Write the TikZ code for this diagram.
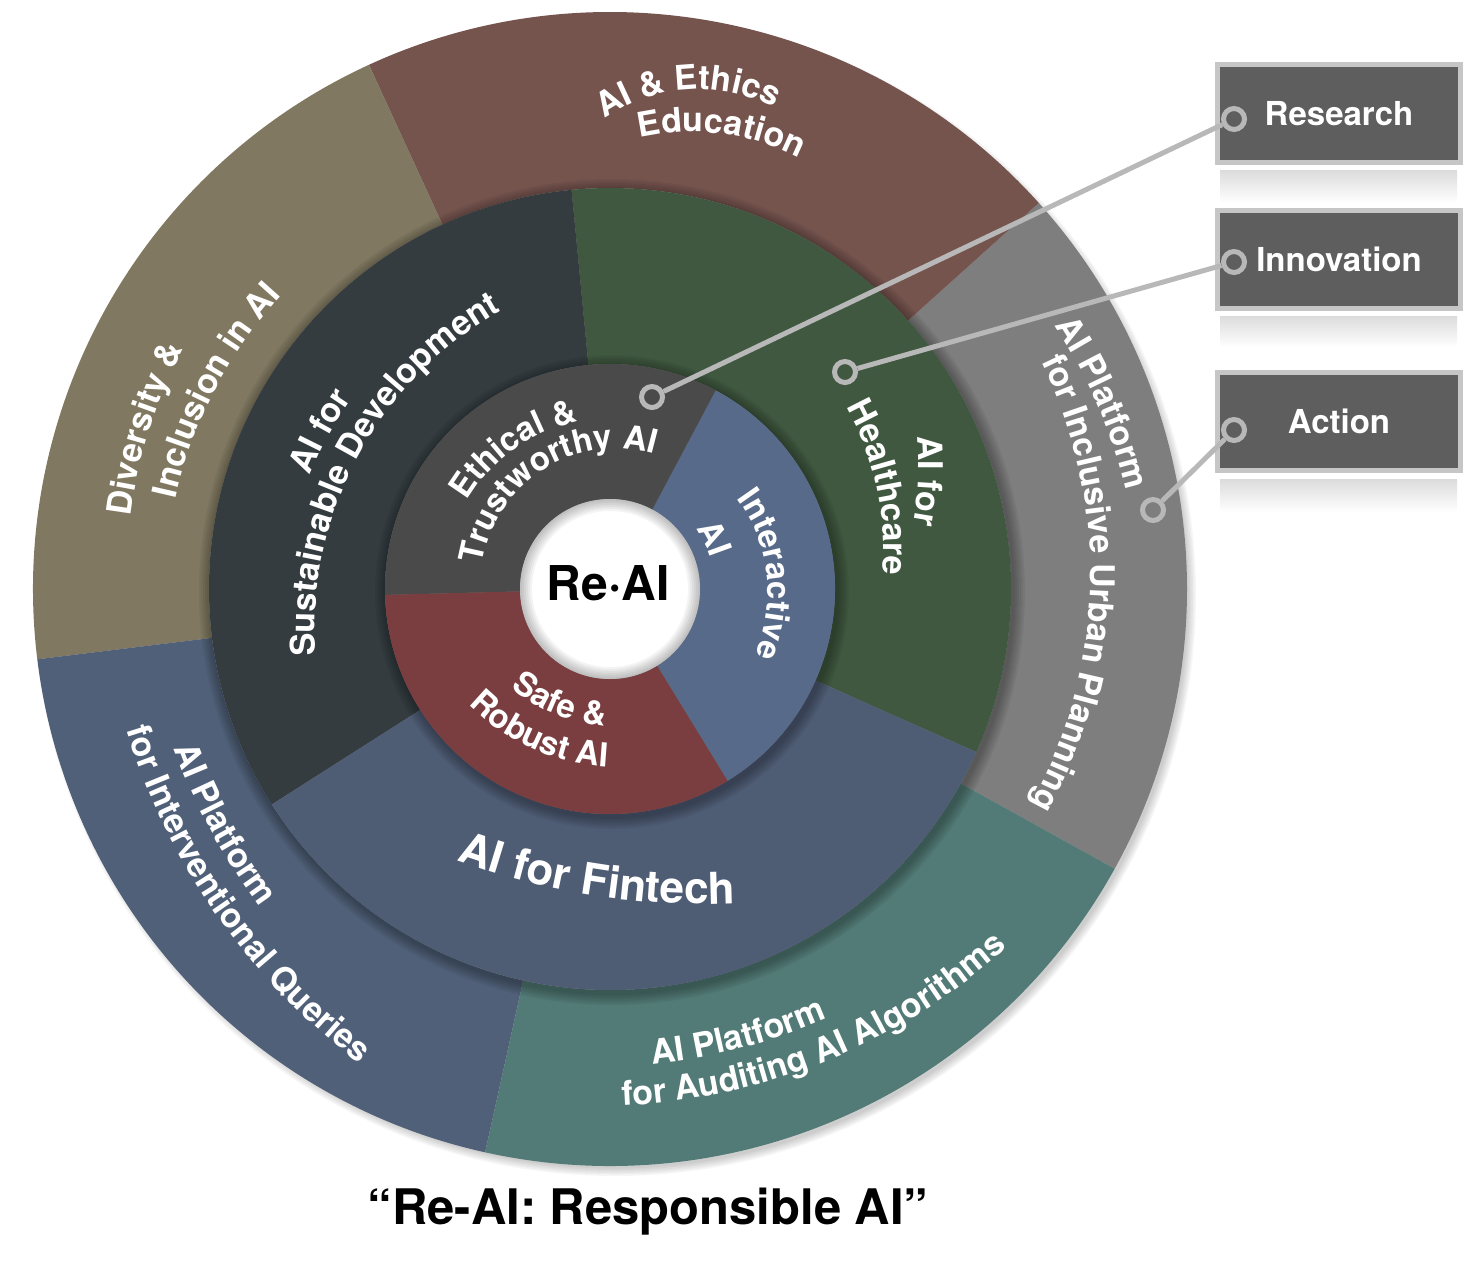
\documentclass[tikz,border=0pt]{standalone}
\usepackage{fontspec}
\setmainfont{TeX Gyre Heros}
\usetikzlibrary{calc,decorations.text}

\definecolor{cDiv}{HTML}{807860}
\definecolor{cEth}{HTML}{76544E}
\definecolor{cUrb}{HTML}{7E7E7E}
\definecolor{cAud}{HTML}{527A76}
\definecolor{cInt}{HTML}{506078}
\definecolor{cSus}{HTML}{343C40}
\definecolor{cHea}{HTML}{405840}
\definecolor{cFin}{HTML}{4E5C74}
\definecolor{cEtt}{HTML}{4A4A4A}
\definecolor{cIac}{HTML}{586A8A}
\definecolor{cSaf}{HTML}{7A3E40}
\definecolor{boxfill}{HTML}{5E5E5E}
\definecolor{boxline}{HTML}{C6C6C6}
\definecolor{lineg}{HTML}{B8B8B8}

% annular sector: r_in, r_out, a1, a2, colour
\newcommand\ringsector[5]{%
  \fill[#5] ($(C)+(#3:#2)$) arc[start angle=#3, end angle=#4, radius=#2]
     -- ($(C)+(#4:#1)$) arc[start angle=#4, end angle=#3, radius=#1] -- cycle;}

% curved label: type (1 tops outward, -1 tops inward), start, end (mid-height of letters),
% radius of curvature, font size, text
\newcommand\arclabel[6]{%
  \path[decorate,decoration={text along path,text align=center,text color=white,
      text={|\fontsize{#5}{#5}\selectfont\bfseries|#6}}]
    let \p1=(#2), \p2=(#3),
        \n1={atan2(\y2-\y1,\x2-\x1)},
        \n2={veclen(\x2-\x1,\y2-\y1)/2},
        \n3={#4*sqrt(1-(\n2/#4)^2)},
        \n4={\n1+90*(#1)},
        \n5={#4-(#1)*0.36*#5},
        \n6={300/\n5*57.2958},
        \p3=($(\p1)!0.5!(\p2)+({\n1-90*(#1)}:\n3)$),
        \p4=($(\p3)+({\n4+(#1)*\n6}:\n5)$)
    in (\p4) arc[start angle={\n4+(#1)*\n6}, delta angle={-2*(#1)*\n6}, radius=\n5];}

\tikzset{
  legendbox/.style={draw=boxline, fill=boxfill, line width=5pt, minimum width=243pt,
     minimum height=98pt, inner sep=0pt, text=white, font=\bfseries\fontsize{33}{33}\selectfont},
  marker/.style={circle, draw=lineg, line width=5pt, minimum size=21pt, inner sep=0pt},
  conn/.style={draw=lineg, line width=5pt},
  refl/.style={top color=black!14, bottom color=white, draw=none},
  shadowring/.style={black, opacity=0.05}
}

\begin{document}
\begin{tikzpicture}[x=1pt,y=1pt]
\useasboundingbox (0,0) rectangle (1464,-1280);
\coordinate (C) at (610,-589);

% outer drop shadow (towards lower right)
\foreach \k in {1,...,6} \fill[black,opacity=0.035] ($(C)+(5,-6)$) circle ({572+1.5*\k});

% outer ring
\ringsector{401}{577}{-29}{42}{cUrb}
\ringsector{401}{577}{42}{114.7}{cEth}
\ringsector{401}{577}{114.7}{187}{cDiv}
\ringsector{401}{577}{187}{257.5}{cInt}
\ringsector{401}{577}{257.5}{331}{cAud}

% shadow of middle ring
\foreach \k in {1,...,6} \fill[shadowring] ($(C)+(2,-3)$) circle ({401+2*\k});

% middle ring
\ringsector{225}{401}{-24}{95.5}{cHea}
\ringsector{225}{401}{95.5}{212.5}{cSus}
\ringsector{225}{401}{212.5}{336}{cFin}

% shadow of inner ring
\foreach \k in {1,...,6} \fill[shadowring] ($(C)+(2,-3)$) circle ({225+2*\k});

% inner ring
\ringsector{90}{225}{-58.5}{62}{cIac}
\ringsector{90}{225}{62}{181.5}{cEtt}
\ringsector{90}{225}{181.5}{301.5}{cSaf}

% centre disc
\fill[white] (C) circle (90);
\foreach \k in {1,...,6} \fill[black,opacity=0.045,even odd rule] (C) circle (90) (C) circle ({90-2*\k});
\node[font=\bfseries\fontsize{48}{48}\selectfont] (core) at (608,-583) {Re·AI};

% labels, outer ring
\arclabel{1}{607,-103}{770,-92}{175}{34}{AI {\&} Ethics}
\arclabel{1}{646,-124}{797,-143}{250}{34}{Education}
\arclabel{1}{120,-505}{168,-352}{500}{34}{Diversity {\&}}
\arclabel{1}{165,-490}{268,-292}{455}{34}{Inclusion in AI}
\arclabel{1}{1072,-330}{1135,-475}{533}{34}{AI Platform}
\arclabel{1}{1055,-362}{1045,-805}{493}{34}{for Inclusive Urban Planning}
\arclabel{-1}{659.5,-1051}{814.4,-1010.3}{561}{34}{AI Platform}
\arclabel{-1}{627,-1093}{995,-942}{600}{34}{for Auditing AI Algorithms}
\arclabel{-1}{188.7,-752.6}{264.2,-892.7}{611}{34}{AI Platform}
\arclabel{-1}{140,-732}{362,-1050}{650}{34}{for Interventional Queries}

% labels, middle ring
\arclabel{1}{301,-465}{338,-397}{416}{34}{AI for}
\arclabel{1}{303,-650}{490,-303}{380}{34}{Sustainable Development}
\arclabel{1}{930,-440}{926,-522}{340}{34}{AI for}
\arclabel{1}{862,-410}{895,-565}{300}{34}{Healthcare}
\arclabel{-1}{474,-850}{722,-888}{700}{44}{AI for Fintech}

% labels, inner ring
\arclabel{1}{462,-487}{567,-412}{180}{33}{Ethical {\&}}
\arclabel{1}{472,-553}{648,-440}{148}{33}{Trustworthy AI}
\arclabel{1}{748,-494}{767,-657}{169}{33}{Interactive}
\arclabel{1}{706,-523}{721,-553}{117}{33}{AI}
\arclabel{-1}{526,-685}{596,-713}{170}{33}{Safe {\&}}
\arclabel{-1}{484,-703}{598,-754}{200}{33}{Robust AI}

% legend
\shade[refl] (1220,-170) rectangle (1457,-203);
\shade[refl] (1220,-316) rectangle (1457,-347);
\shade[refl] (1220,-479) rectangle (1457,-512);
\node[legendbox] (research) at (1339,-113.5) {Research};
\node[legendbox] (innovation) at (1339,-259.5) {Innovation};
\node[legendbox] (action) at (1339,-421) {Action};

\node[marker] (mr) at (1234,-119) {};
\node[marker] (mi) at (1234,-262) {};
\node[marker] (ma) at (1234,-430) {};
\node[marker] (dr) at (652,-397) {};
\node[marker] (di) at (845,-372) {};
\node[marker] (da) at (1153,-510) {};
\draw[conn] (dr) -- (mr);
\draw[conn] (di) -- (mi);
\draw[conn] (da) -- (ma);

% title
\node[font=\bfseries\fontsize{49}{49}\selectfont] (title) at (648,-1212) {“Re-AI: Responsible AI”};
\end{tikzpicture}
\end{document}
